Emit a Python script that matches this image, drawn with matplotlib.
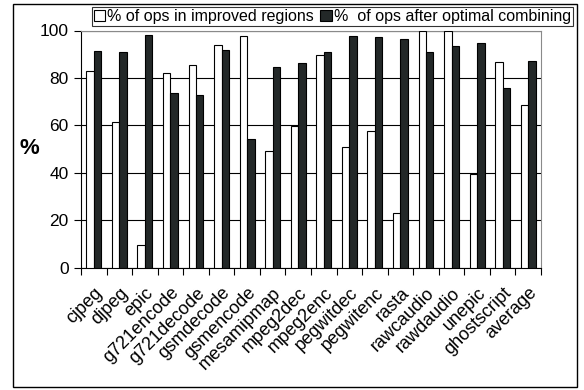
import matplotlib
matplotlib.use("Agg")
import matplotlib.pyplot as plt
import matplotlib.transforms as mtransforms
import numpy as np
from matplotlib.patches import Rectangle

plt.rcParams['font.family'] = ['Liberation Sans', 'DejaVu Sans']

benchmarks = ["cjpeg", "djpeg", "epic", "g721encode", "g721decode", "gsmdecode",
              "gsmencode", "mesamipmap", "mpeg2dec", "mpeg2enc", "pegwitdec",
              "pegwitenc", "rasta", "rawcaudio", "rawdaudio", "unepic",
              "ghostscript", "average"]
improved_regions = [83.0, 61.3, 9.7, 82.0, 85.3, 93.8, 97.8, 49.1, 59.9, 89.8,
                    50.8, 57.5, 23.2, 100.0, 100.0, 39.4, 86.6, 68.7]
after_combining = [91.4, 91.1, 98.1, 73.7, 72.7, 91.6, 54.3, 84.6, 86.3, 90.8,
                   97.8, 97.3, 96.3, 90.8, 93.3, 94.6, 75.9, 87.0]
yticks = [0, 20, 40, 60, 80, 100]
series_labels = ["% of ops in improved regions", "%  of ops after optimal combining"]

fig = plt.figure(figsize=(5.84, 3.90), dpi=100)
ax = fig.add_axes([81 / 584, 1 - 267.7 / 390, 460 / 584, 237.2 / 390])

x = np.arange(len(benchmarks))
w = 0.29
b1 = ax.bar(x - w / 2, improved_regions, w, color="white", edgecolor="black",
            linewidth=0.8, label=series_labels[0], zorder=3)
b2 = ax.bar(x + w / 2, after_combining, w, color="#232828", edgecolor="black",
            linewidth=0.8, label=series_labels[1], zorder=3)

ax.set_xlim(-0.5, len(benchmarks) - 0.5)
ax.set_ylim(0, 100)
ax.set_yticks(yticks)
ax.set_yticklabels([str(v) for v in yticks], fontsize=12.5)
ax.yaxis.grid(True, color="black", linewidth=0.8, zorder=0)
ax.set_axisbelow(True)

# category ticks sit between groups, labels at group centres
ax.set_xticks(np.arange(len(benchmarks) + 1) - 0.5, minor=False)
ax.set_xticklabels([])
ax.set_xticks(x, minor=True)
labels = ax.set_xticklabels(benchmarks, minor=True, rotation=45, ha="right",
                            rotation_mode="anchor", fontsize=13)
shift = mtransforms.ScaledTranslation(-10 / 100, -3 / 100, fig.dpi_scale_trans)
for lab in labels:
    lab.set_transform(lab.get_transform() + shift)
ax.tick_params(axis="x", which="minor", length=0, pad=12)
ax.tick_params(axis="x", which="major", length=5, direction="out", width=0.8)
ax.tick_params(axis="y", length=5, direction="out", width=0.8, pad=4)

for side in ("top", "right"):
    ax.spines[side].set_color("#8a8a8a")
    ax.spines[side].set_linewidth(0.8)
for side in ("left", "bottom"):
    ax.spines[side].set_color("black")
    ax.spines[side].set_linewidth(0.8)

fig.text(29 / 584, 1 - 149 / 390, "%", fontsize=16, fontweight="bold",
         ha="center", va="center")

leg = fig.legend(handles=[b1, b2], labels=series_labels, ncol=2,
                 loc="upper right", bbox_to_anchor=(573 / 584, 1 - 7 / 390),
                 fontsize=11.5, frameon=True, fancybox=False, borderpad=0.12,
                 handlelength=0.7, handleheight=0.7, handletextpad=0.15,
                 columnspacing=0.4, borderaxespad=0)
leg.get_frame().set_edgecolor("black")
leg.get_frame().set_linewidth(0.8)

fig.patches.append(Rectangle((13 / 584, 3 / 390), 564 / 584, 383 / 390,
                             transform=fig.transFigure, fill=False,
                             edgecolor="black", linewidth=1.0))

fig.savefig("out.png", dpi=100)
